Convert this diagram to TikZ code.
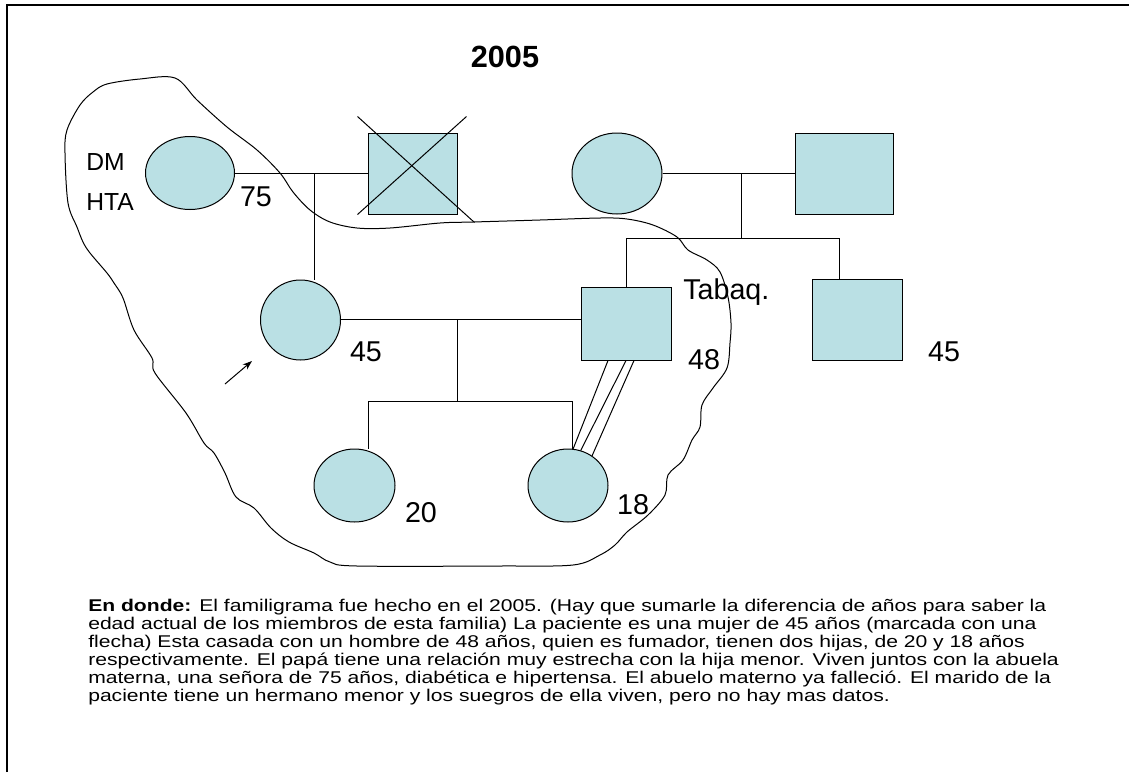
\documentclass[tikz,border=0pt]{standalone}
\usepackage{fontspec}
\usepackage{graphicx}
\setmainfont{Liberation Sans}
\usetikzlibrary{shapes.geometric,backgrounds,calc,arrows.meta}
\definecolor{famfill}{RGB}{186,224,228}
\newcommand{\lblfont}{\fontsize{21.5pt}{24pt}\selectfont}
\newcommand{\dxfont}{\fontsize{18.5pt}{21pt}\selectfont}
\newcommand{\ttlfont}{\fontsize{23pt}{26pt}\selectfont\bfseries}
\newcommand{\bodyfont}{\fontsize{12.75pt}{14pt}\selectfont}
\newlength\lnw
\newsavebox\lnbox
\begin{document}
\sbox\lnbox{\bodyfont\textbf{En donde:} El familigrama fue hecho en el 2005. (Hay que sumarle la diferencia de años para saber la}%
\setlength\lnw{\wd\lnbox}%
\pgfmathsetmacro\txs{958*0.75/\lnw}%
\begin{tikzpicture}[x=0.75pt,y=-0.75pt,
  fem/.style={ellipse,draw,fill=famfill,inner sep=0pt,line width=0.75pt},
  mal/.style={rectangle,draw,fill=famfill,inner sep=0pt,line width=0.75pt},
  lbl/.style={font=\lblfont,inner sep=0pt},
  dxl/.style={font=\dxfont,inner sep=0pt,anchor=west},
  conn/.style={draw,line width=0.75pt},
  bodyline/.style={anchor=base west,inner sep=0pt,font=\bodyfont}]
\useasboundingbox (0,0) rectangle (1129,772);
% frame
\coordinate (fbl) at (6.5,772);
\coordinate (ftl) at (6.5,5);
\coordinate (ftr) at (1129,5);
\draw[line width=1.5pt] (fbl) -- (ftl) -- (ftr);
% title
\node[font=\ttlfont,inner sep=0pt] (title) at (505,57) {2005};
% generation 1
\node[fem,minimum width=66.75pt,minimum height=54.75pt] (mgm) at (190,173) {};
\node[mal,minimum width=66.75pt,minimum height=60.75pt] (mgf) at (412.5,173.5) {};
\node[fem,minimum width=67.5pt,minimum height=60.75pt] (pgm) at (617,173.5) {};
\node[mal,minimum width=73.5pt,minimum height=60.75pt] (pgf) at (844,173.5) {};
% generation 2
\node[fem,minimum width=60pt,minimum height=60pt] (pat) at (300.5,320) {};
\node[mal,minimum width=67.5pt,minimum height=54.75pt] (hus) at (626,323.5) {};
\node[mal,minimum width=67.5pt,minimum height=60.75pt] (bro) at (857,319.5) {};
% generation 3
\node[fem,minimum width=60.75pt,minimum height=54.75pt] (d1) at (354.5,485.5) {};
\node[fem,minimum width=60pt,minimum height=54.75pt] (d2) at (568,485.5) {};
% connectors
\coordinate (mc) at (314,173);
\coordinate (pc) at (741,173.5);
\coordinate (ps) at (741,238);
\coordinate (psl) at (626,238);
\coordinate (psr) at (839,238);
\coordinate (cc) at (457,319);
\coordinate (cs) at (457,401);
\coordinate (csl) at (368,401);
\coordinate (csr) at (572,401);
\begin{scope}[on background layer]
\draw[conn] (mgm.east |- mc) -- (mgf.west |- mc);
\draw[conn] (mc) -- (mc |- pat.north);
\draw[conn] (pgm.east) -- (pgf.west |- pgm.east);
\draw[conn] (pc) -- (ps);
\draw[conn] (psl) -- (psr);
\draw[conn] (psl) -- (hus.north);
\draw[conn] (psr) -- (psr |- bro.north);
\draw[conn] (pat.east |- cc) -- (hus.west |- cc);
\draw[conn] (cc) -- (cs);
\draw[conn] (csl) -- (csr);
\draw[conn] (csl) -- (csl |- d1.north);
\draw[conn] (csr) -- (csr |- d2.north);
\end{scope}
% deceased cross
\coordinate (xa) at ($(mgf.north west)+(-10,-16)$);
\coordinate (xb) at ($(mgf.south east)+(17,8)$);
\coordinate (xc) at ($(mgf.north east)+(9,-16)$);
\coordinate (xd) at ($(mgf.south west)+(-10,0)$);
\draw[conn] (xa) -- (xb);
\draw[conn] (xc) -- (xd);
% very close relationship (triple line)
\draw[conn] ($(hus.south)+(-18,0)$) -- (d2.82);
\draw[conn] (hus.south) -- (d2.70);
\draw[conn] ($(hus.south)+(8,0)$) -- (d2.51);
% index arrow
\coordinate (ar0) at (225,384);
\coordinate (ar1) at (252,361);
\draw[line width=0.75pt,-{Stealth[length=7pt,width=5pt]}] (ar0) -- (ar1);
% household boundary
\draw[line width=0.75pt] plot[smooth cycle,tension=0.55] coordinates {
(175,78) (197,100) (227,127) (257,150) (280,173) (293,192) (310,210) (330,222)
(357,228) (390,228) (440,223) (473,222) (540,220) (600,218) (627,219) (653,225)
(677,237) (688,250) (707,260) (720,272) (728,297) (731,323) (730,343) (727,368)
(713,388) (702,405) (700,427) (692,440) (683,460) (668,475) (665,495) (648,515)
(627,532) (615,545) (600,555) (573,565) (500,566) (357,566) (330,562) (314,553)
(289,542) (271,528) (254,508) (236,497) (225,473) (214,453) (204,443) (186,413)
(155,373) (152,358) (134,330) (123,298) (114,283) (107,273) (90,253) (83,242)
(77,227) (68,203) (65,153) (67,130) (80,105) (93,92) (107,84) (140,79)};
% labels
\node[dxl] (ldm) at (86,162) {DM};
\node[dxl] (lhta) at (86,202) {HTA};
\node[lbl] (l75) at (256,197) {75};
\node[lbl] (l45a) at (366,352) {45};
\node[lbl,anchor=west] (ltab) at (683,292) {Tabaq.};
\node[lbl] (l48) at (704,360) {48};
\node[lbl] (l45b) at (944,352) {45};
\node[lbl] (l20) at (421,513) {20};
\node[lbl] (l18) at (633,505) {18};
% description
\node[bodyline] (t1) at (88,611) {\scalebox{\txs}[1]{\textbf{En donde:} El familigrama fue hecho en el 2005. (Hay que sumarle la diferencia de años para saber la}};
\node[bodyline] (t2) at (88,629) {\scalebox{\txs}[1]{edad actual de los miembros de esta familia) La paciente es una mujer de 45 años (marcada con una}};
\node[bodyline] (t3) at (88,647) {\scalebox{\txs}[1]{flecha) Esta casada con un hombre de 48 años, quien es fumador, tienen dos hijas, de 20 y 18 años}};
\node[bodyline] (t4) at (88,665) {\scalebox{\txs}[1]{respectivamente. El papá tiene una relación muy estrecha con la hija menor. Viven juntos con la abuela}};
\node[bodyline] (t5) at (88,683) {\scalebox{\txs}[1]{materna, una señora de 75 años, diabética e hipertensa. El abuelo materno ya falleció. El marido de la}};
\node[bodyline] (t6) at (88,701) {\scalebox{\txs}[1]{paciente tiene un hermano menor y los suegros de ella viven, pero no hay mas datos.}};
\end{tikzpicture}
\end{document}
